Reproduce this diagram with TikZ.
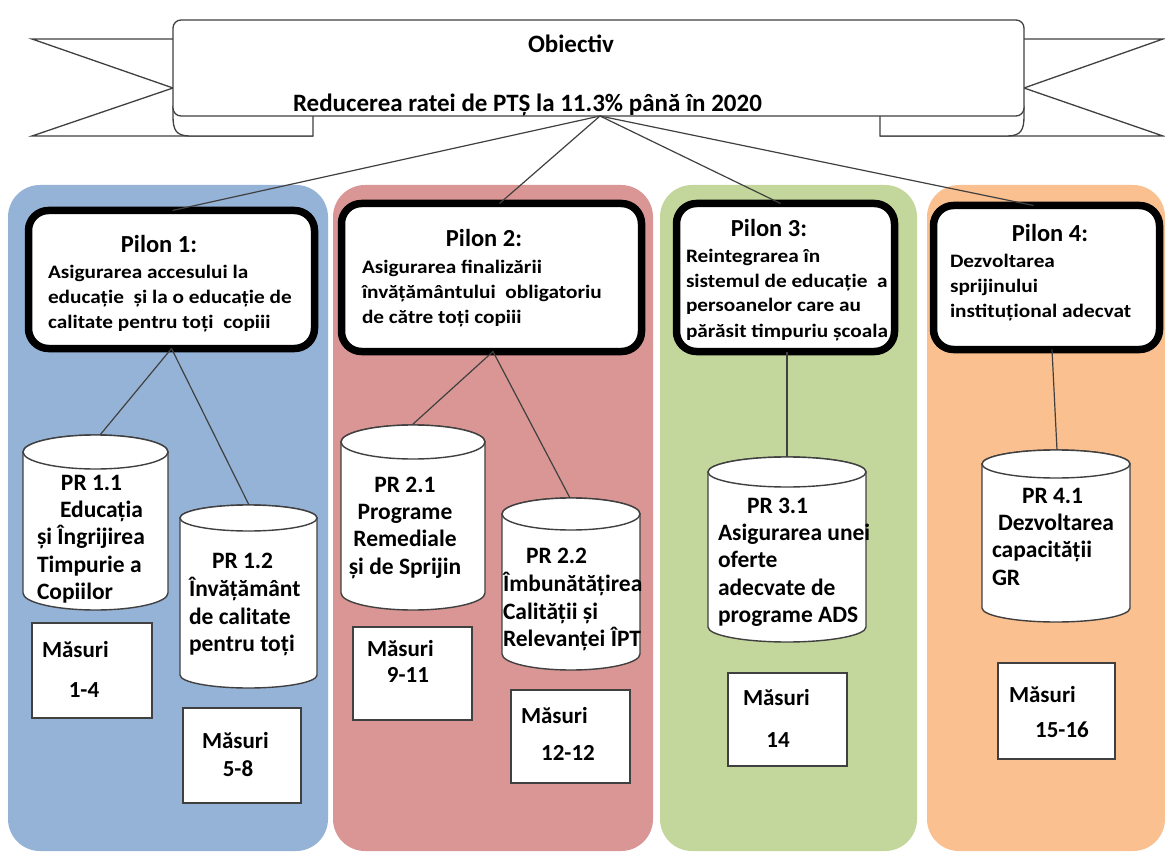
\documentclass[tikz,border=0pt]{standalone}
\usepackage{fontspec}
\setmainfont{Carlito}
\newfontfamily\stretchfam{Carlito}[FakeStretch=1.12]
\newcommand\bannerfnt{\bfseries\fontsize{25}{30}\selectfont}
\newcommand\titlefnt{\bfseries\fontsize{24.5}{29}\selectfont}
\newcommand\bodyfnt{\stretchfam\bfseries\fontsize{19}{25}\selectfont}
\newcommand\cylfnt{\bfseries\fontsize{23.5}{27.3}\selectfont}
\newcommand\masfnt{\bfseries\fontsize{23}{27}\selectfont}
\definecolor{colblue}{HTML}{95B3D7}
\definecolor{colred}{HTML}{D99694}
\definecolor{colgreen}{HTML}{C3D69B}
\definecolor{colorange}{HTML}{FAC090}
\definecolor{linegray}{HTML}{404040}
\newcommand\cylshape[5]{%
  \pgfmathsetmacro\cylcx{(#1+#2)/2}%
  \pgfmathsetmacro\cylrx{(#2-#1)/2}%
  \filldraw[cylst] (#1,#3+#5) -- (#1,#4-#5) arc[start angle=180,end angle=0,x radius=\cylrx,y radius=#5] -- (#2,#3+#5) arc[start angle=0,end angle=-180,x radius=\cylrx,y radius=#5] -- cycle;
  \draw[cylst] (\cylcx,#3+#5) ellipse[x radius=\cylrx, y radius=#5];
}
\tikzset{
  colbg/.style={rounded corners=32pt},
  bline/.style={draw=black!75, line width=1.3pt},
  pilon/.style={draw=black, line width=7.5pt, rounded corners=20pt, fill=white, inner sep=0pt, outer sep=0pt},
  conn/.style={draw=linegray, line width=1.2pt},
  cylst/.style={draw=linegray, line width=1.4pt, fill=white},
  masbox/.style={draw=linegray, line width=1.5pt, fill=white, inner sep=0pt, outer sep=0pt},
  bantext/.style={font=\bannerfnt, inner sep=0pt, outer sep=0pt},
  ptitle/.style={font=\titlefnt, inner sep=0pt, outer sep=0pt, anchor=base},
  pbody/.style={font=\bodyfnt, align=left, inner sep=0pt, outer sep=0pt, anchor=north west},
  cyltext/.style={font=\cylfnt, align=left, inner sep=0pt, outer sep=0pt, anchor=north west},
  mastext/.style={font=\masfnt, inner sep=0pt, outer sep=0pt},
}
\begin{document}
\begin{tikzpicture}[x=1pt,y=-1pt]
\useasboundingbox (0,0) rectangle (1165,853);
\fill[white] (0,0) rectangle (1165,853);
% columns
\fill[colblue, colbg] (8,185) rectangle (328,851);
\fill[colred, colbg] (333,185) rectangle (653,851);
\fill[colgreen, colbg] (660,185) rectangle (917,851);
\fill[colorange, colbg] (927,185) rectangle (1165,851);
% banner
\draw[bline] (173,39) -- (32,39) -- (173,88) -- (32,136) -- (313,136);
\draw[bline] (1024,39) -- (1163,39) -- (1024,88) -- (1163,136) -- (880,136);
\draw[bline, fill=white] (313,106) -- (313,136) -- (190,136) .. controls (176,136) and (173,130) .. (173,116) -- (173,106);
\draw[bline, fill=white] (880,106) -- (880,136) -- (1007,136) .. controls (1021,136) and (1024,130) .. (1024,116) -- (1024,106);
\draw[bline, fill=white, rounded corners=8pt] (173,20) rectangle (1024,116);
\node[bantext, anchor=base] (obj) at (571,53) {Obiectiv};
\node[bantext, anchor=base west] (goal) at (293,112) {Reducerea ratei de PTȘ la 11.3\% până în 2020};
\coordinate (bpt) at (600,116);
% pilons
\node[pilon, minimum width=286pt, minimum height=138pt] (p1) at (171.5,279.5) {};
\node[pilon, minimum width=300pt, minimum height=148pt] (p2) at (491.5,277.5) {};
\node[pilon, minimum width=218pt, minimum height=148pt] (p3) at (785.5,277.5) {};
\node[pilon, minimum width=226pt, minimum height=144pt] (p4) at (1046.5,277.5) {};
\draw[conn] (bpt) -- ([xshift=1pt]p1.north);
\draw[conn] (bpt) -- ([xshift=8pt]p2.north);
\draw[conn] (bpt) -- ([xshift=-5pt]p3.north);
\draw[conn] (bpt) -- ([xshift=-13pt]p4.north);
\node[ptitle] (t1) at (159,253) {Pilon 1:};
\node[ptitle] (t2) at (484,247) {Pilon 2:};
\node[ptitle] (t3) at (769,237) {Pilon 3:};
\node[ptitle] (t4) at (1050,242) {Pilon 4:};
\node[pbody] (b1) at (48,260.5) {\strut Asigurarea accesului la\\educație\ \ și la o educație de\\calitate pentru toți\ \ copiii};
\node[pbody] (b2) at (362,255.5) {\strut Asigurarea finalizării\\învățământului\ \ obligatoriu\\de către toți copiii};
\node[pbody] (b3) at (686,244.5) {\strut Reintegrarea în\\sistemul de educație\ \ a\\persoanelor care au\\părăsit timpuriu școala};
\node[pbody] (b4) at (950,249.5) {\strut Dezvoltarea\\sprijinului\\instituțional adecvat};
% cylinders
\coordinate (c11) at (100,435);
\coordinate (c12) at (249,505);
\coordinate (c21) at (412,425);
\coordinate (c22) at (570,498);
\coordinate (c31) at (787,457);
\coordinate (c41) at (1057,450);
\draw[conn] (p1.south) -- (c11);
\draw[conn] (p1.south) -- (c12);
\draw[conn] ([xshift=1.5pt]p2.south) -- (c21);
\draw[conn] ([xshift=1.5pt]p2.south) -- (c22);
\draw[conn] ([xshift=1.5pt]p3.south) -- (c31);
\draw[conn] ([xshift=5.5pt]p4.south) -- (c41);
\cylshape{23}{168}{435}{610}{17}
\cylshape{180}{317}{505}{688}{13}
\cylshape{341}{485}{425}{610}{17}
\cylshape{502}{640}{498}{670}{16}
\cylshape{708}{866}{457}{642}{15}
\cylshape{982}{1130}{450}{622}{14}
\node[cyltext] (r11) at (37,471.1) {\hspace{24pt}\strut PR 1.1\\\hspace{23pt}Educația\\și Îngrijirea\\Timpurie a\\Copiilor};
\node[cyltext] (r12) at (189,549.1) {\hspace{23pt}\strut PR 1.2\\Învățământ\\de calitate\\pentru toți};
\node[cyltext, align=center, anchor=north] (r21) at (405,473.1) {\strut PR 2.1\\Programe\\Remediale\\și de Sprijin};
\node[cyltext] (r22) at (503,544.1) {\hspace{23pt}\strut PR 2.2\\Îmbunătățirea\\Calității și\\Relevanței ÎPT};
\node[cyltext] (r31) at (718,494.1) {\hspace{29pt}\strut PR 3.1\\Asigurarea unei\\oferte\\adecvate de\\programe ADS};
\node[cyltext] (r41) at (992,484.1) {\hspace{30pt}\strut PR 4.1\\\hspace{6pt}Dezvoltarea\\capacității\\GR};
% masuri boxes
\node[masbox, minimum width=120pt, minimum height=95pt] (m1) at (92,670.5) {};
\node[masbox, minimum width=118pt, minimum height=95pt] (m2) at (242,755.5) {};
\node[masbox, minimum width=119pt, minimum height=93pt] (m3) at (412.5,673.5) {};
\node[masbox, minimum width=119pt, minimum height=93pt] (m4) at (570.5,736.5) {};
\node[masbox, minimum width=119pt, minimum height=93pt] (m5) at (787.5,719.5) {};
\node[masbox, minimum width=117pt, minimum height=96pt] (m6) at (1056.5,711) {};
\node[mastext, anchor=base west] (m1a) at (42,657) {Măsuri};
\node[mastext, anchor=base] (m1b) at (84,697) {1-4};
\node[mastext, anchor=base west] (m2a) at (202,748) {Măsuri};
\node[mastext, anchor=base] (m2b) at (238,776) {5-8};
\node[mastext, anchor=base west] (m3a) at (367,656) {Măsuri};
\node[mastext, anchor=base] (m3b) at (408,682) {9-11};
\node[mastext, anchor=base west] (m4a) at (521,723) {Măsuri};
\node[mastext, anchor=base] (m4b) at (568,760) {12-12};
\node[mastext, anchor=base west] (m5a) at (743,705) {Măsuri};
\node[mastext, anchor=base] (m5b) at (778,747) {14};
\node[mastext, anchor=base west] (m6a) at (1009,702) {Măsuri};
\node[mastext, anchor=base] (m6b) at (1062,737) {15-16};
\end{tikzpicture}
\end{document}
